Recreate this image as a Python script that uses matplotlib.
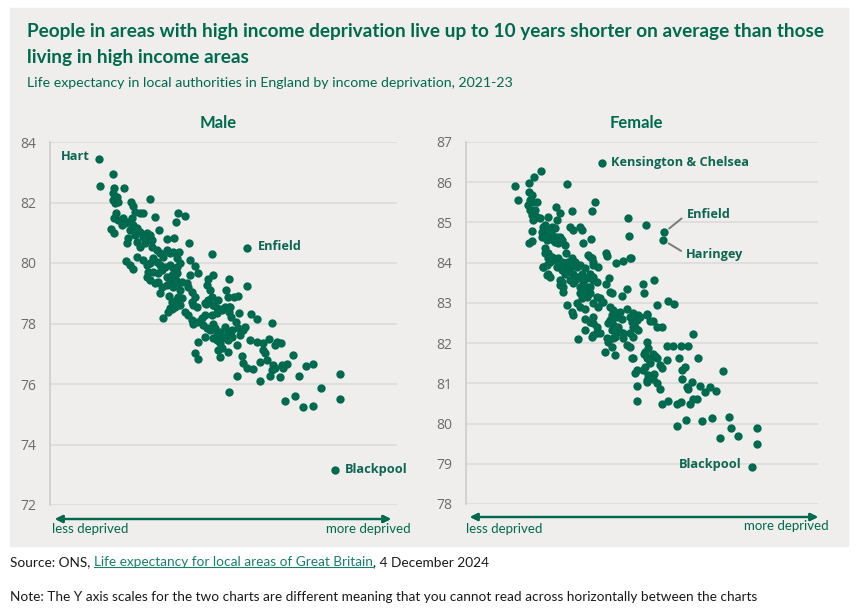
"""
plot.py

Life expectancy vs income deprivation, local authorities in England, 2021-23.
"""

import matplotlib.pyplot as plt
from matplotlib.lines import Line2D
from matplotlib.patches import Rectangle

# income deprivation score (arbitrary units, higher = more deprived) and
# life expectancy at birth (years)
male_dep = [
    4.85, 6.27, 5.03, 6.40, 7.40, 6.33, 6.67, 6.33, 6.50, 6.83, 10.00, 8.07,
    8.33, 8.50, 9.00, 9.33, 6.60, 6.40, 6.83, 7.33, 7.50, 7.17, 7.83, 8.17,
    8.33, 8.00, 8.67, 9.00, 8.50, 9.33, 9.67, 10.00, 10.17, 10.53, 12.77, 13.50,
    12.60, 10.87, 6.07, 6.43, 7.83, 7.67, 8.67, 9.00, 9.50, 9.83, 10.17, 10.67,
    11.00, 11.33, 11.67, 12.00, 12.33, 12.93, 12.67, 11.67, 12.43, 13.93, 16.23, 19.73,
    7.60, 8.00, 8.27, 8.67, 9.33, 9.67, 10.00, 10.33, 10.67, 11.00, 11.17, 11.50,
    12.00, 12.33, 12.73, 13.00, 12.67, 12.17, 11.67, 10.83, 10.33, 9.83, 9.67, 10.00,
    14.00, 14.50, 14.83, 14.00, 15.83, 16.27, 15.67, 16.00, 16.17, 17.93, 17.60, 17.83,
    18.40, 18.77, 17.93, 19.67, 10.50, 10.83, 11.17, 11.00, 11.67, 12.00, 12.33, 12.60,
    12.83, 13.17, 13.00, 12.83, 12.67, 12.17, 12.00, 12.50, 13.00, 13.73, 13.83, 14.17,
    14.50, 14.17, 14.33, 14.67, 15.60, 16.33, 16.67, 17.17, 11.90, 18.00, 17.93, 18.07,
    18.93, 20.10, 20.67, 22.17, 18.60, 18.83, 19.33, 19.50, 19.00, 18.73, 20.00, 20.67,
    21.33, 21.93, 22.50, 22.67, 23.07, 21.33, 21.50, 21.00, 21.67, 22.33, 22.50, 22.17,
    23.17, 23.73, 23.33, 22.00, 23.00, 24.33, 25.60, 26.33, 24.87, 21.00, 18.67, 17.90,
    19.17, 19.33, 19.67, 20.27, 29.00, 27.10, 24.50, 23.47, 25.30, 26.27, 29.00, 14.50,
    14.77, 14.83, 15.50, 16.33, 16.67, 17.00, 17.17, 17.50, 17.83, 18.17, 16.83, 17.17,
    17.83, 17.00, 16.00, 16.50, 16.67, 17.00, 17.50, 17.83, 18.17, 15.33, 15.67, 16.33,
    13.50, 13.83, 14.17, 14.33, 14.67, 15.17, 15.50, 16.17, 16.67, 17.17, 17.50, 11.27,
    11.83, 12.17, 12.60, 13.17, 12.83, 15.50, 15.83, 16.33, 16.83, 28.50,
]
male_le = [
    83.44, 82.95, 82.53, 82.47, 82.47, 82.30, 82.19, 82.08, 81.97, 82.03, 82.13, 82.02,
    81.88, 81.70, 81.64, 81.66, 81.64, 81.48, 81.42, 81.48, 81.31, 81.26, 81.37, 81.48,
    81.26, 81.09, 81.15, 81.03, 80.93, 80.87, 80.98, 80.93, 80.76, 81.52, 81.66, 81.55,
    81.36, 81.09, 81.12, 80.98, 80.82, 80.65, 80.70, 80.54, 80.65, 80.76, 80.54, 80.43,
    80.32, 80.21, 80.43, 80.32, 80.37, 80.36, 80.16, 80.78, 80.84, 80.65, 80.29, 80.49,
    80.07, 79.93, 79.79, 80.21, 80.10, 79.93, 79.99, 80.16, 80.04, 79.93, 79.77, 79.88,
    79.93, 79.82, 79.88, 79.99, 79.66, 79.60, 79.55, 79.66, 79.71, 79.71, 79.55, 79.44,
    80.10, 79.90, 79.68, 79.60, 79.46, 79.60, 79.27, 79.11, 78.89, 79.46, 79.11, 78.89,
    78.89, 78.91, 78.56, 79.25, 79.33, 79.38, 79.22, 79.02, 79.27, 79.38, 79.22, 79.44,
    79.33, 79.38, 79.11, 78.89, 78.67, 78.72, 78.50, 78.56, 78.61, 79.33, 79.22, 79.05,
    78.89, 78.72, 78.61, 78.56, 78.63, 78.61, 78.50, 78.47, 78.91, 78.54, 78.39, 78.22,
    78.36, 78.31, 78.16, 78.03, 78.06, 77.84, 77.79, 77.89, 77.62, 77.29, 77.45, 77.40,
    77.34, 77.48, 77.29, 77.40, 77.34, 77.12, 77.01, 76.74, 76.79, 76.63, 76.52, 76.46,
    76.63, 76.66, 76.52, 76.26, 76.24, 76.96, 76.60, 76.66, 76.26, 76.10, 76.26, 75.75,
    76.93, 76.68, 76.52, 76.49, 76.32, 75.86, 75.60, 75.45, 75.23, 75.28, 75.51, 77.04,
    76.82, 77.40, 77.54, 77.51, 77.45, 77.34, 77.51, 77.54, 77.45, 77.56, 77.12, 77.18,
    77.07, 76.90, 77.79, 77.84, 77.68, 77.73, 77.89, 77.73, 77.79, 77.95, 77.84, 78.00,
    78.39, 78.28, 78.12, 77.98, 78.06, 78.17, 78.28, 78.28, 78.36, 78.45, 78.56, 78.17,
    78.39, 78.47, 78.78, 78.83, 78.61, 78.67, 78.78, 78.61, 78.78, 73.16,
]

female_dep = [
    13.57, 4.90, 5.17, 6.30, 6.83, 7.50, 10.07, 6.33, 6.57, 6.40, 6.73, 7.07,
    6.23, 6.40, 6.90, 6.57, 7.07, 6.73, 7.40, 6.57, 6.30, 6.57, 8.23, 8.97,
    9.40, 10.63, 12.90, 12.63, 7.73, 7.57, 7.90, 8.23, 8.57, 8.90, 9.07, 8.73,
    9.23, 9.57, 7.90, 9.90, 10.00, 10.40, 10.67, 11.40, 11.57, 11.73, 12.50, 7.90,
    8.23, 8.57, 8.90, 8.40, 8.07, 7.73, 8.23, 8.40, 8.73, 9.23, 9.57, 9.90,
    10.23, 9.07, 9.57, 9.90, 10.40, 7.67, 9.57, 9.40, 9.67, 10.57, 10.90, 11.07,
    10.73, 10.90, 11.23, 11.57, 11.73, 12.07, 12.40, 12.73, 13.07, 12.23, 11.73, 12.23,
    12.57, 13.23, 12.73, 14.07, 14.00, 14.97, 15.73, 16.40, 14.30, 14.00, 14.40, 14.57,
    15.57, 16.07, 16.23, 16.30, 10.07, 10.57, 10.73, 11.07, 11.40, 11.90, 11.57, 12.07,
    12.40, 13.07, 13.57, 12.73, 13.23, 11.90, 12.40, 12.73, 14.57, 14.73, 15.40, 14.57,
    18.00, 16.47, 18.80, 17.67, 17.80, 19.07, 16.07, 16.73, 17.23, 17.07, 16.57, 18.07,
    18.73, 19.07, 15.07, 15.57, 15.23, 15.73, 14.40, 14.57, 12.73, 13.07, 13.40, 16.73,
    16.40, 16.73, 11.23, 12.57, 14.07, 14.90, 9.07, 7.57, 8.07, 8.57, 8.90, 9.40,
    7.90, 8.23, 9.90, 10.07, 11.40, 11.90, 12.40, 12.73, 8.07, 9.40, 9.73, 10.40,
    10.73, 11.40, 12.40, 12.73, 11.40, 11.73, 12.23, 13.40, 13.73, 20.23, 20.80, 18.13,
    18.40, 19.60, 22.73, 13.07, 11.90, 14.40, 14.90, 14.23, 14.73, 16.40, 16.90, 17.40,
    17.23, 15.40, 15.73, 14.73, 14.23, 14.57, 14.90, 13.90, 16.67, 16.40, 18.07, 17.90,
    18.13, 18.40, 18.90, 19.07, 17.90, 17.73, 18.23, 18.07, 17.07, 16.90, 17.13, 17.07,
    19.40, 19.57, 18.73, 19.07, 19.40, 20.13, 20.73, 21.47, 22.23, 20.07, 21.33, 23.23,
    21.57, 21.90, 25.73, 21.57, 22.57, 22.07, 22.23, 23.40, 23.90, 24.40, 24.97, 22.73,
    23.07, 22.40, 19.57, 20.23, 21.07, 21.47, 21.13, 22.00, 23.57, 24.63, 26.33, 26.47,
    27.23, 25.40, 29.07, 29.07, 28.63, 19.83, 19.73, 12.73, 13.13, 15.07, 15.07, 16.07,
    16.57, 17.80, 18.40, 18.80, 18.07, 18.23, 18.73,
]
female_le = [
    86.48, 85.91, 85.57, 85.98, 86.14, 86.29, 85.95, 85.76, 85.68, 85.56, 85.52, 85.52,
    85.43, 85.31, 85.31, 85.18, 85.14, 85.06, 85.10, 84.79, 84.48, 84.54, 85.13, 85.39,
    85.23, 85.28, 85.52, 85.28, 84.89, 84.77, 84.64, 84.81, 84.89, 84.85, 84.64, 84.56,
    84.48, 84.56, 84.94, 84.44, 84.25, 84.89, 84.81, 84.89, 84.81, 84.48, 84.58, 84.36,
    84.23, 84.15, 84.06, 84.02, 83.94, 83.90, 83.73, 83.65, 84.11, 84.11, 84.02, 83.98,
    84.02, 83.90, 83.82, 83.73, 83.86, 83.88, 83.53, 83.44, 83.28, 84.11, 84.02, 83.90,
    83.73, 83.57, 83.65, 83.73, 83.53, 83.61, 83.73, 83.65, 83.53, 83.40, 83.40, 84.19,
    84.11, 83.90, 83.94, 84.16, 84.23, 83.98, 84.05, 84.11, 83.63, 83.47, 83.28, 83.24,
    83.18, 82.86, 85.10, 84.66, 82.95, 82.78, 82.70, 82.99, 82.90, 82.86, 83.11, 83.15,
    83.24, 83.15, 83.03, 82.99, 82.90, 82.61, 82.53, 82.49, 82.70, 82.82, 82.78, 82.49,
    84.93, 84.12, 83.57, 83.47, 83.24, 82.94, 83.34, 82.74, 82.70, 82.57, 82.53, 82.70,
    82.55, 82.41, 82.65, 82.61, 82.41, 82.24, 82.57, 82.32, 82.65, 82.41, 82.24, 82.41,
    82.24, 82.16, 82.09, 82.16, 82.12, 82.16, 85.06, 84.64, 84.56, 84.69, 84.52, 84.64,
    84.23, 84.11, 83.90, 83.77, 83.94, 83.86, 84.15, 84.02, 83.69, 83.57, 83.40, 83.57,
    83.49, 83.40, 83.40, 83.57, 83.24, 83.19, 83.28, 83.11, 83.03, 83.05, 82.96, 82.72,
    82.55, 82.39, 82.22, 82.28, 82.32, 82.90, 82.70, 82.49, 82.45, 82.65, 82.41, 82.65,
    82.32, 82.28, 82.12, 82.12, 82.03, 81.91, 81.70, 81.78, 81.63, 81.91, 82.03, 81.78,
    81.62, 81.58, 81.68, 81.62, 81.41, 81.33, 81.20, 81.08, 81.33, 81.26, 80.93, 80.56,
    81.45, 81.37, 81.12, 81.00, 80.87, 81.93, 81.93, 81.93, 81.93, 81.58, 81.62, 81.62,
    81.33, 81.41, 81.31, 81.10, 81.04, 80.91, 80.87, 80.93, 80.79, 80.90, 80.81, 80.62,
    80.62, 80.48, 80.48, 80.56, 80.48, 80.54, 79.95, 80.08, 80.06, 80.13, 80.17, 79.90,
    79.69, 79.63, 79.89, 79.50, 78.92, 84.75, 84.56, 82.21, 82.26, 82.74, 82.31, 81.95,
    81.64, 81.74, 81.51, 81.23, 81.04, 81.89, 81.73,
]

male_ticks = [72, 74, 76, 78, 80, 82, 84]
female_ticks = [78, 79, 80, 81, 82, 83, 84, 85, 86, 87]

# labelled areas: name, deprivation, life expectancy, text offset (points), alignment
male_labels = [
    ("Hart", 4.85, 83.44, (-6, 1.5), "right"),
    ("Enfield", 19.73, 80.49, (7.5, 1), "left"),
    ("Blackpool", 28.50, 73.16, (7, 0), "left"),
]
female_labels = [
    ("Kensington & Chelsea", 13.57, 86.48, (6.5, 0.5), "left"),
    ("Blackpool", 28.63, 78.92, (-8, 1.5), "right"),
]
# labels set further away, joined to their point by a short line
female_callouts = [
    ("Enfield", 19.83, 84.75, (16, 13)),
    ("Haringey", 19.73, 84.56, (16.5, -10)),
]

TITLE = ("People in areas with high income deprivation live up to 10 years shorter "
         "on average than those")
TITLE2 = "living in high income areas"
SUBTITLE = "Life expectancy in local authorities in England by income deprivation, 2021-23"

GREEN = "#006a4e"
LABEL_GREEN = "#0c6652"
BG = "#efeeec"
GRID = "#dcdad8"
TICK = "#6b6b6b"

W, H = 858, 612


def fx(px):
    return px / W


def fy(py):
    return 1 - py / H


def fit_width(text, target_px, renderer):
    bb = text.get_window_extent(renderer)
    text.set_fontsize(text.get_fontsize() * target_px / bb.width)


def style_axes(ax, ticks):
    ax.set_facecolor(BG)
    ax.set_ylim(ticks[0], ticks[-1])
    ax.set_yticks(ticks)
    ax.set_xticks([])
    ax.grid(axis="y", color=GRID, lw=1.1, zorder=0)
    ax.set_axisbelow(True)
    for side in ["top", "right", "bottom"]:
        ax.spines[side].set_visible(False)
    ax.spines["left"].set_color("#cfcdcb")
    ax.spines["left"].set_linewidth(1.2)
    ax.tick_params(axis="y", length=0, pad=10, labelsize=10, labelcolor=TICK)
    for lab in ax.get_yticklabels():
        lab.set_fontfamily("Open Sans")


def add_labels(ax, labels):
    for name, x, y, off, ha in labels:
        ax.annotate(name, xy=(x, y), xytext=off, textcoords="offset points",
                    ha=ha, va="center", fontsize=9.2, fontweight="bold",
                    color=LABEL_GREEN, family="Open Sans")


def add_callouts(ax, callouts):
    line = dict(arrowstyle="-", color="#7a7a7a", lw=1.4, shrinkA=2, shrinkB=4.5,
                relpos=(0, 0.5))
    for name, x, y, off in callouts:
        ax.annotate(name, xy=(x, y), xytext=off, textcoords="offset points",
                    ha="left", va="center", fontsize=9.2, fontweight="bold",
                    color=LABEL_GREEN, family="Open Sans", arrowprops=line)


def add_arrow(fig, x0, x1, y):
    fig.add_artist(plt.annotate(
        "", xy=(fx(x1), fy(y)), xytext=(fx(x0), fy(y)),
        xycoords="figure fraction", textcoords="figure fraction",
        arrowprops=dict(arrowstyle="<|-|>", color=GREEN, lw=1.6,
                        mutation_scale=11, shrinkA=0, shrinkB=0)))


def main():
    plt.rcParams["font.family"] = ["Lato", "DejaVu Sans"]

    fig = plt.figure(figsize=(W / 100, H / 100), dpi=100)
    fig.patches.append(Rectangle((fx(10), fy(546)), fx(838), 538 / H,
                                 transform=fig.transFigure, color=BG, zorder=-5))

    ax_m = fig.add_axes([fx(50), fy(505), fx(347), 363 / H])
    ax_f = fig.add_axes([fx(466), fy(504), fx(352), 362 / H])

    ax_m.scatter(male_dep, male_le, s=36, color=GREEN, linewidths=0, zorder=3, clip_on=False)
    ax_f.scatter(female_dep, female_le, s=36, color=GREEN, linewidths=0, zorder=3, clip_on=False)

    ax_m.set_xlim(0, 34.7)
    ax_f.set_xlim(0, 35.2)
    style_axes(ax_m, male_ticks)
    style_axes(ax_f, female_ticks)

    add_labels(ax_m, male_labels)
    add_labels(ax_f, female_labels)
    add_callouts(ax_f, female_callouts)

    # panel titles
    fig.text(fx(218), fy(123), "Male", ha="center", va="center", fontsize=12,
             fontweight="bold", color=GREEN)
    fig.text(fx(636), fy(123), "Female", ha="center", va="center", fontsize=12,
             fontweight="bold", color=GREEN)

    # deprivation arrows
    add_arrow(fig, 55, 391, 519)
    add_arrow(fig, 470, 818, 517)
    for x, y, s, ha in [(52, 529, "less deprived", "left"),
                        (411, 529, "more deprived", "right"),
                        (466, 529, "less deprived", "left"),
                        (829, 526, "more deprived", "right")]:
        fig.text(fx(x), fy(y), s, ha=ha, va="center", fontsize=9.5, color=GREEN)

    # titles
    t1 = fig.text(fx(27), fy(31), TITLE, ha="left", va="center", fontsize=12.5,
                  fontweight="bold", color=GREEN)
    t2 = fig.text(fx(27), fy(58), TITLE2, ha="left", va="center", fontsize=12.5,
                  fontweight="bold", color=GREEN)
    st = fig.text(fx(27), fy(83), SUBTITLE, ha="left", va="center", fontsize=10,
                  color=GREEN)

    # source and note
    s1 = fig.text(fx(10), fy(562), "Source: ONS,", ha="left", va="center",
                  fontsize=9.5, color="#1a1a1a")
    s2 = fig.text(0, 0, "Life expectancy for local areas of Great Britain", fontsize=9.5,
                  color="#17806d")
    s3 = fig.text(0, 0, ", 4 December 2024", fontsize=9.5, color="#1a1a1a")
    note = fig.text(fx(10), fy(597), "Note: The Y axis scales for the two charts are "
                    "different meaning that you cannot read across horizontally "
                    "between the charts", ha="left", va="center", fontsize=9.5,
                    color="#1a1a1a")

    renderer = fig.canvas.get_renderer()
    fit_width(t1, 802, renderer)
    t2.set_fontsize(t1.get_fontsize())
    fit_width(st, 486, renderer)
    fit_width(note, 747, renderer)
    for t in (s1, s2, s3):
        t.set_fontsize(note.get_fontsize())

    # chain the source pieces one after another
    bb1 = s1.get_window_extent(renderer)
    space = 4
    s2.set_position((fx(bb1.x1 + space), fy(562)))
    s2.set_va("center")
    bb2 = s2.get_window_extent(renderer)
    s3.set_position((fx(bb2.x1), fy(562)))
    s3.set_va("center")
    bb2 = s2.get_window_extent(renderer)
    fig.add_artist(Line2D([bb2.x0 / W, bb2.x1 / W], [(bb2.y0 + 1.5) / H] * 2,
                          color="#17806d", lw=0.8))

    fig.savefig("out.png", dpi=100, facecolor="white")
    plt.close(fig)


if __name__ == "__main__":
    main()
